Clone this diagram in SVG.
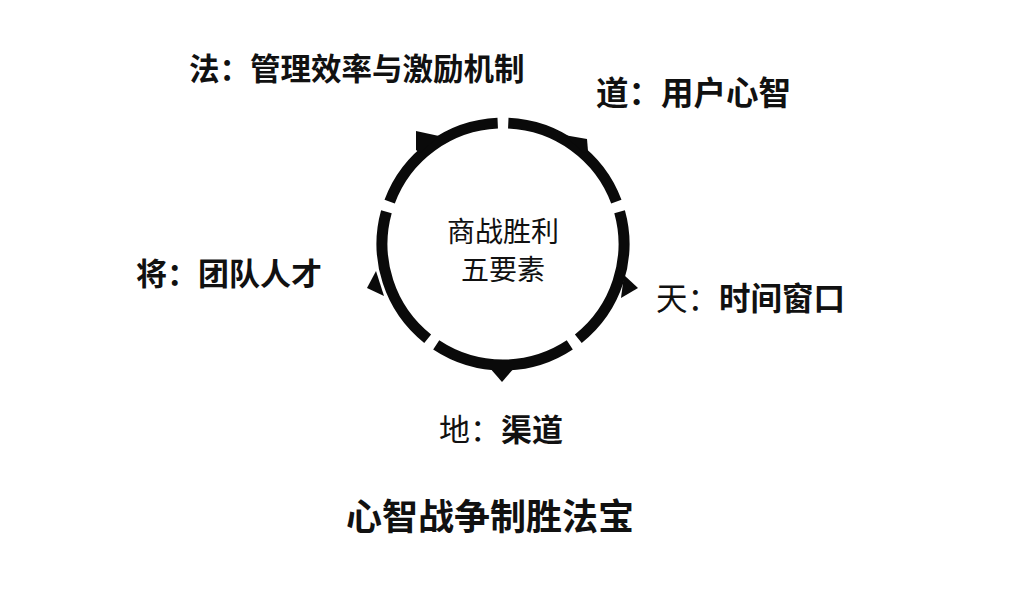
<svg xmlns="http://www.w3.org/2000/svg" width="1024" height="599" viewBox="0 0 1024 599">
<style>
.t{font-family:"Noto Sans CJK SC","Noto Sans",sans-serif;fill:#111;}
.lbl{font-size:31px;font-weight:700;}
.reg{font-weight:400;}
.ctr{font-size:28px;font-weight:400;text-anchor:middle;}
.ttl{font-size:36px;font-weight:700;}
.arc{fill:none;stroke:#0a0a0a;stroke-width:11;stroke-linecap:butt;}
.head{fill:#0a0a0a;}
</style>
<rect width="1024" height="599" fill="#ffffff"/>
<g id="connectors">
<path class="arc" d="M508.28,123.12 A121,121 0 0 1 616.34,201.63"/>
<path class="arc" d="M619.60,211.67 A121,121 0 0 1 578.32,338.69"/>
<path class="arc" d="M569.78,344.90 A121,121 0 0 1 436.22,344.90"/>
<path class="arc" d="M427.68,338.69 A121,121 0 0 1 386.40,211.67"/>
<path class="arc" d="M389.66,201.63 A121,121 0 0 1 497.72,123.12"/>
<polygon class="head" points="416,131 439,136 420,153 416,150"/>
<polygon class="head" points="587,139 564,135 584,153 588,151"/>
<polygon class="head" points="638,288 624,275 621,298"/>
<polygon class="head" points="502,382 489,367 515,367"/>
<polygon class="head" points="367,288 376,271 384,296"/>
</g>
<g id="center">
<text class="t ctr" x="503" y="242">商战胜利</text>
<text class="t ctr" x="503" y="280">五要素</text>
</g>
<g id="node-fa">
<text class="t lbl" x="189" y="80" style="font-size:30.5px">法：管理效率与激励机制</text>
</g>
<g id="node-dao">
<text class="t lbl" x="596" y="105" style="font-size:32.5px">道：用户心智</text>
</g>
<g id="node-jiang">
<text class="t lbl" x="136" y="285">将：团队人才</text>
</g>
<g id="node-tian">
<text class="t lbl" x="656" y="310" style="font-size:31.5px"><tspan class="reg">天：</tspan>时间窗口</text>
</g>
<g id="node-di">
<text class="t lbl" x="439" y="441"><tspan class="reg">地：</tspan>渠道</text>
</g>
<g id="title">
<text class="t ttl" x="346" y="530">心智战争制胜法宝</text>
</g>
</svg>
